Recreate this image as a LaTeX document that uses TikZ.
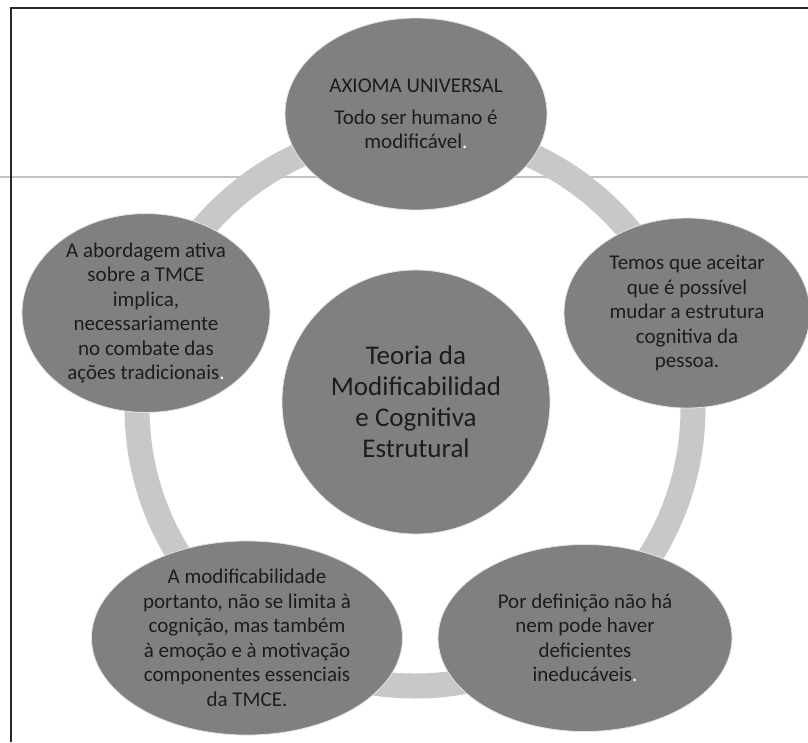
\documentclass[tikz,border=0pt]{standalone}
\usepackage{fontspec}
\setmainfont{Carlito}
\usetikzlibrary{shapes.geometric}
\definecolor{ringgray}{RGB}{200,200,200}
\definecolor{ellgray}{RGB}{128,128,128}
\definecolor{txtdark}{RGB}{28,28,28}
\definecolor{hlinec}{RGB}{195,195,195}
\definecolor{framec}{RGB}{40,40,40}
\tikzset{
  bubble/.style={ellipse, fill=ellgray, draw=white!90!black, line width=0.8pt, inner sep=0pt, align=center, text=txtdark, font=\fontsize{21}{24.5}\selectfont},
  hub/.style={bubble, font=\fontsize{27}{31}\selectfont},
  ringline/.style={draw=ringgray, line width=25pt},
  framel/.style={draw=framec, line width=2pt},
  pageline/.style={draw=hlinec, line width=1.5pt},
}
\begin{document}
\begin{tikzpicture}[x=1pt,y=-1pt]
\useasboundingbox (0,0) rectangle (808,742);
\fill[white] (0,0) rectangle (808,742);
% page line and frame
\coordinate (hl) at (0,177);
\coordinate (hr) at (808,177);
\draw[pageline] (hl) -- (hr);
\coordinate (fbl) at (11,742);
\coordinate (ftl) at (11,8);
\coordinate (ftr) at (808,8);
\draw[framel] (fbl) -- (ftl) -- (ftr);
% ring
\coordinate (ringc) at (415,408);
\draw[ringline] (ringc) circle[radius=278pt];
% bubbles
\node[bubble, minimum width=262pt, minimum height=192pt] (top) at (416,114)
  {AXIOMA UNIVERSAL\\[7pt]Todo ser humano é\\modificável{\color{white}.}};
\node[bubble, minimum width=246pt, minimum height=190pt] (right) at (687,313)
  {Temos que aceitar\\que é possível\\mudar a estrutura\\cognitiva da\\pessoa.};
\node[bubble, minimum width=294pt, minimum height=187pt] (bright) at (585,638)
  {Por definição não há\\nem pode haver\\deficientes\\ineducáveis{\color{white}.}};
\node[bubble, minimum width=311pt, minimum height=187pt] (bleft) at (247,638)
  {A modificabilidade\\portanto, não se limita à\\cognição, mas também\\à emoção e à motivação\\componentes essenciais\\da TMCE.};
\node[bubble, minimum width=248pt, minimum height=188pt] (left) at (146,313)
  {A abordagem ativa\\sobre a TMCE\\implica,\\necessariamente\\no combate das\\ações tradicionais{\color{white}.}};
\node[hub, minimum width=268pt, minimum height=264pt] (hubn) at (416,402)
  {Teoria da\\Modificabilidad\\e Cognitiva\\Estrutural};
\end{tikzpicture}
\end{document}
